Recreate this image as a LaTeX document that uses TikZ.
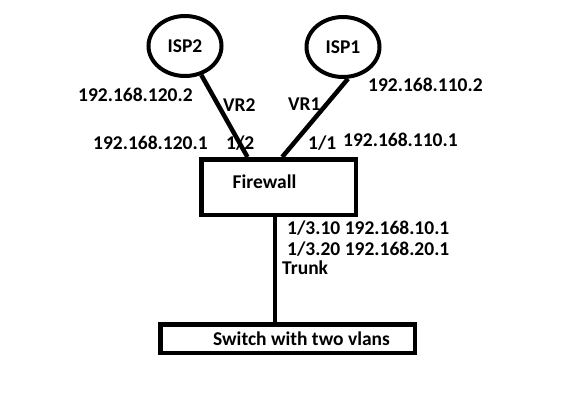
\documentclass[tikz,border=0pt]{standalone}
\usepackage{fontspec}
\setmainfont{Carlito}
\usetikzlibrary{shapes.geometric}

\begin{document}
\begin{tikzpicture}[x=1pt, y=-1pt,
  font=\fontsize{19.5}{22}\selectfont\bfseries,
  isp/.style={ellipse, draw, line width=4pt, minimum width=73pt, minimum height=60pt, inner sep=0pt},
  box/.style={rectangle, draw, line width=4.5pt, inner sep=0pt},
  link/.style={line width=4.5pt},
  lbl/.style={anchor=west, inner sep=0pt}]
  \useasboundingbox (0,0) rectangle (564,409);
  \node[isp] (isp2) at (185,46) {ISP2};
  \node[isp] (isp1) at (343,47) {ISP1};
  \node[box, minimum width=154.5pt, minimum height=55.5pt,
    label={[shift={(-14,-5)}]center:Firewall}] (fw) at (278.5,187) {};
  \node[box, minimum width=254.5pt, minimum height=28.5pt,
    label={[shift={(14,0)}]center:Switch with two vlans}] (sw) at (287.5,338.5) {};
  \draw[link] (isp2) -- (fw.136);
  \draw[link] (isp1.-81) -- (fw.83);
  \draw[link] (fw.263) -- (fw.263 |- sw.north);
  \node[lbl] (ip1202) at (78,95) {192.168.120.2};
  \node[lbl] (vr2) at (223,105) {VR2};
  \node[lbl] (vr1) at (288,104) {VR1};
  \node[lbl] (ip1201) at (93,143) {192.168.120.1};
  \node[lbl] (port2) at (226,143) {1/2};
  \node[lbl] (port1) at (308,143) {1/1};
  \node[lbl] (ip1101) at (343,140) {192.168.110.1};
  \node[lbl] (ip1102) at (368,85) {192.168.110.2};
  \node[lbl] (sub10) at (287,228) {1/3.10 192.168.10.1};
  \node[lbl] (sub20) at (287,249) {1/3.20 192.168.20.1};
  \node[lbl] (trunk) at (282,268) {Trunk};
\end{tikzpicture}
\end{document}
